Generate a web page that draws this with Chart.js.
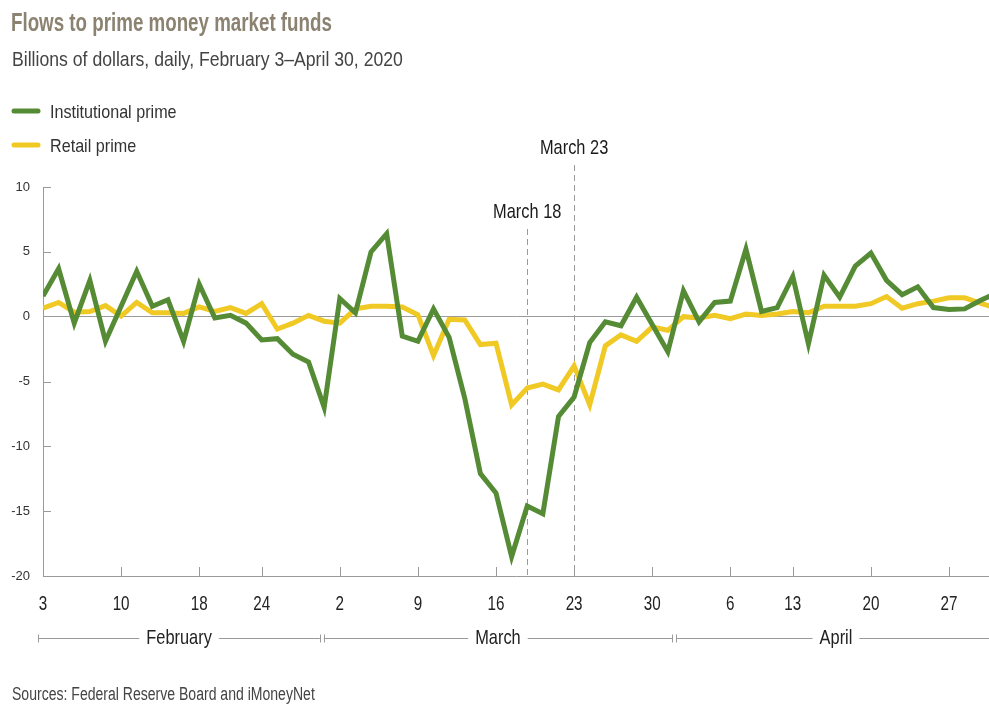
<!DOCTYPE html>
<html>
<head>
<meta charset="utf-8">
<script src="https://cdn.jsdelivr.net/npm/chart.js@4"></script>
<style>
  html, body { margin: 0; padding: 0; background: #fff; }
  #wrap { width: 989px; height: 717px; }
</style>
</head>
<body>
<div id="wrap"><canvas id="flowChart" width="989" height="717"></canvas></div>
<script>
// business days, Feb 3 - Apr 30, 2020
const dates = [
  'Feb 3','Feb 4','Feb 5','Feb 6','Feb 7','Feb 10','Feb 11','Feb 12','Feb 13','Feb 14',
  'Feb 18','Feb 19','Feb 20','Feb 21','Feb 24','Feb 25','Feb 26','Feb 27','Feb 28',
  'Mar 2','Mar 3','Mar 4','Mar 5','Mar 6','Mar 9','Mar 10','Mar 11','Mar 12','Mar 13',
  'Mar 16','Mar 17','Mar 18','Mar 19','Mar 20','Mar 23','Mar 24','Mar 25','Mar 26','Mar 27',
  'Mar 30','Mar 31','Apr 1','Apr 2','Apr 3','Apr 6','Apr 7','Apr 8','Apr 9',
  'Apr 13','Apr 14','Apr 15','Apr 16','Apr 17','Apr 20','Apr 21','Apr 22','Apr 23','Apr 24',
  'Apr 27','Apr 28','Apr 29','Apr 30'
];

const institutional = [
  1.6, 3.7, -0.5, 2.8, -1.9, 0.8, 3.5, 0.8, 1.3, -1.9,
  2.5, -0.1, 0.1, -0.5, -1.8, -1.7, -2.9, -3.5, -7.0,
  1.4, 0.3, 5.0, 6.4, -1.5, -1.9, 0.6, -1.6, -6.3, -12.1,
  -13.6, -18.5, -14.6, -15.2, -7.7, -6.2, -2.0, -0.4, -0.7, 1.5,
  -0.6, -2.7, 2.0, -0.4, 1.1, 1.2, 5.2, 0.4, 0.7,
  3.1, -2.1, 3.2, 1.5, 3.9, 4.9, 2.8, 1.7, 2.3, 0.7,
  0.55, 0.6, 1.25, 1.8
];

const retail = [
  0.65, 1.1, 0.35, 0.4, 0.85, 0.05, 1.1, 0.3, 0.3, 0.25,
  0.75, 0.4, 0.7, 0.25, 1.0, -0.95, -0.5, 0.1, -0.35,
  -0.5, 0.6, 0.8, 0.8, 0.75, 0.15, -3.0, -0.2, -0.25, -2.15,
  -2.05, -6.8, -5.5, -5.2, -5.65, -3.8, -6.8, -2.25, -1.4, -1.9,
  -0.8, -1.05, 0.0, -0.1, 0.1, -0.15, 0.2, 0.1, 0.2,
  0.4, 0.3, 0.8, 0.8, 0.8, 1.0, 1.55, 0.65, 1.0, 1.2,
  1.45, 1.45, 1.05, 0.65
];

const tickDates = ['Feb 3','Feb 10','Feb 18','Feb 24','Mar 2','Mar 9','Mar 16','Mar 23','Mar 30','Apr 6','Apr 13','Apr 20','Apr 27'];
const yTicks = [-20, -15, -10, -5, 0, 5, 10];
const months = ['February', 'March', 'April'];
const markerDates = ['Mar 18', 'Mar 23'];
const markerLabels = ['March 18', 'March 23'];

const FONT = "'Liberation Sans', Arial, sans-serif";
const SX = 0.78; // squeeze to look like the narrow face in the original
const GREEN = '#558b35';
const YELLOW = '#f0c925';
const GREY = '#9a9a9a';

const tickIdx = tickDates.map(d => dates.indexOf(d));

function drawText(ctx, text, x, y, size, weight, color, align, sx) {
  ctx.save();
  ctx.font = weight + ' ' + size + 'px ' + FONT;
  ctx.fillStyle = color;
  ctx.textAlign = align || 'left';
  ctx.textBaseline = 'alphabetic';
  ctx.translate(x, y);
  ctx.scale(sx || SX, 1);
  ctx.fillText(text, 0, 0);
  ctx.restore();
}

function textWidth(ctx, text, size, weight) {
  ctx.save();
  ctx.font = (weight || 'normal') + ' ' + size + 'px ' + FONT;
  const w = ctx.measureText(text).width * SX;
  ctx.restore();
  return w;
}

const decorations = {
  id: 'decorations',
  beforeDatasetsDraw(chart) {
    const ctx = chart.ctx;
    const xs = chart.scales.x;
    const bottom = chart.chartArea.bottom;
    // dashed event lines
    const tops = [229, 165];
    ctx.save();
    ctx.strokeStyle = GREY;
    ctx.lineWidth = 1;
    ctx.setLineDash([6, 4]);
    markerDates.forEach((d, i) => {
      const px = Math.round(xs.getPixelForValue(dates.indexOf(d))) + 0.5;
      ctx.beginPath();
      ctx.moveTo(px, tops[i]);
      ctx.lineTo(px, bottom);
      ctx.stroke();
    });
    ctx.restore();
  },
  afterDraw(chart) {
    const ctx = chart.ctx;
    const xs = chart.scales.x, ys = chart.scales.y;
    const area = chart.chartArea;

    // inward tick marks + x labels
    ctx.save();
    ctx.strokeStyle = GREY;
    ctx.lineWidth = 1;
    xs.ticks.forEach(t => {
      const px = Math.round(xs.getPixelForValue(t.value)) + 0.5;
      ctx.beginPath();
      ctx.moveTo(px, area.bottom);
      ctx.lineTo(px, area.bottom - 9);
      ctx.stroke();
      drawText(ctx, t.label, xs.getPixelForValue(t.value), 610, 19.5, 'normal', '#222', 'center');
    });
    yTicks.forEach(v => {
      if (v === 0 || v === -20) return;
      const py = Math.round(ys.getPixelForValue(v)) + 0.5;
      ctx.beginPath();
      ctx.moveTo(area.left, py);
      ctx.lineTo(area.left + 8, py);
      ctx.stroke();
    });

    // month brackets
    const edges = [-0.3, 17.85, 40.4, 61.0];
    const by = 638.5;
    months.forEach((m, k) => {
      const x0 = xs.getPixelForValue(edges[k]) + (k > 0 ? 2 : 0);
      const x1 = xs.getPixelForValue(edges[k + 1]) - (k < 2 ? 2 : 0);
      const cx = (x0 + x1) / 2;
      const w = textWidth(ctx, m, 21);
      ctx.beginPath();
      ctx.moveTo(x0, by); ctx.lineTo(cx - w / 2 - 7, by);
      ctx.moveTo(cx + w / 2 + 7, by); ctx.lineTo(x1, by);
      ctx.moveTo(Math.round(x0) + 0.5, by - 4); ctx.lineTo(Math.round(x0) + 0.5, by + 4);
      ctx.moveTo(Math.round(x1) + 0.5, by - 4); ctx.lineTo(Math.round(x1) + 0.5, by + 4);
      ctx.stroke();
      drawText(ctx, m, cx, 644, 21, 'normal', '#222', 'center');
    });
    ctx.restore();

    // event labels
    const labelY = [218, 154];
    markerDates.forEach((d, i) => {
      const px = xs.getPixelForValue(dates.indexOf(d));
      drawText(ctx, markerLabels[i], px, labelY[i], 21, 'normal', '#1a1a1a', 'center');
    });

    // title block
    drawText(ctx, 'Flows to prime money market funds', 11, 31, 25, 'bold', '#8b8271', 'left', 0.75);
    drawText(ctx, 'Billions of dollars, daily, February 3\u2013April 30, 2020', 12, 66, 21, 'normal', '#444', 'left', 0.84);

    // legend
    const legY = [111, 145];
    chart.data.datasets.forEach((ds, i) => {
      ctx.save();
      ctx.strokeStyle = ds.borderColor;
      ctx.lineWidth = 5;
      ctx.lineCap = 'round';
      ctx.beginPath();
      ctx.moveTo(14, legY[i]);
      ctx.lineTo(38, legY[i]);
      ctx.stroke();
      ctx.restore();
      drawText(ctx, ds.label, 50, legY[i] + 7, 19, 'normal', '#333', 'left', 0.85);
    });

    // source
    drawText(ctx, 'Sources: Federal Reserve Board and iMoneyNet', 12, 700, 18, 'normal', '#444');
  }
};

const ctx = document.getElementById('flowChart').getContext('2d');
new Chart(ctx, {
  type: 'line',
  data: {
    datasets: [
      {
        label: 'Institutional prime',
        data: institutional.map((v, i) => ({ x: i, y: v })),
        borderColor: GREEN,
        borderWidth: 5,
        pointRadius: 0,
        tension: 0,
        fill: false
      },
      {
        label: 'Retail prime',
        data: retail.map((v, i) => ({ x: i, y: v })),
        borderColor: YELLOW,
        borderWidth: 5,
        pointRadius: 0,
        tension: 0,
        fill: false
      }
    ]
  },
  options: {
    responsive: false,
    animation: false,
    events: [],
    layout: { padding: { top: 187, left: 0, right: 0, bottom: 0 } },
    plugins: {
      legend: { display: false },
      tooltip: { enabled: false }
    },
    scales: {
      x: {
        type: 'linear',
        min: 0,
        max: 60.56,
        afterFit: scale => { scale.height = 141; },
        afterBuildTicks: scale => { scale.ticks = tickIdx.map(v => ({ value: v })); },
        grid: { display: false, drawTicks: false },
        border: { display: true, color: GREY, width: 1 },
        ticks: {
          display: false,
          autoSkip: false,
          callback: value => dates[value] ? dates[value].split(' ')[1] : ''
        }
      },
      y: {
        min: -20,
        max: 10,
        afterFit: scale => { scale.width = 43; },
        afterBuildTicks: scale => { scale.ticks = yTicks.map(v => ({ value: v })); },
        grid: {
          drawTicks: false,
          color: c => (c.tick && c.tick.value === 0) ? GREY : 'rgba(0,0,0,0)',
          lineWidth: 1
        },
        border: { display: true, color: GREY, width: 1 },
        ticks: {
          padding: 13,
          color: '#333',
          font: { family: FONT, size: 13 }
        }
      }
    }
  },
  plugins: [decorations]
});
</script>
</body>
</html>
